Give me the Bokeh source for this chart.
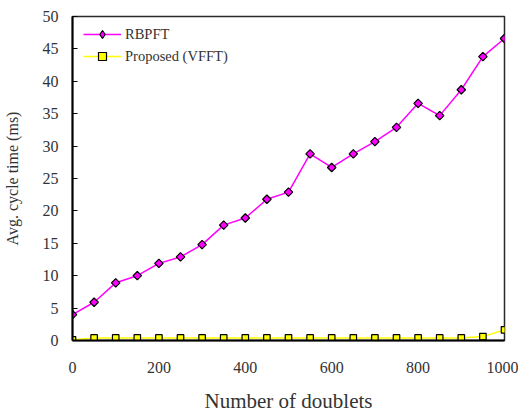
from bokeh.plotting import figure
from bokeh.models import Range1d, Legend, LegendItem, FixedTicker
from bokeh.embed import file_html
from bokeh.resources import INLINE
import math

doublets = [0, 50, 100, 150, 200, 250, 300, 350, 400, 450, 500, 550, 600, 650, 700, 750, 800, 850, 900, 950, 1000]
rbpft = [4.0, 5.9, 8.9, 10.0, 11.9, 12.9, 14.8, 17.8, 18.9, 21.8, 22.9, 28.8, 26.7, 28.8, 30.7, 32.9, 36.6, 34.7, 38.7, 43.8, 46.6]
vfft = [0.1, 0.4, 0.4, 0.4, 0.4, 0.4, 0.4, 0.4, 0.4, 0.4, 0.4, 0.4, 0.4, 0.4, 0.4, 0.4, 0.4, 0.4, 0.4, 0.6, 1.65]
x_ticks = [0, 200, 400, 600, 800, 1000]
y_ticks = [0, 5, 10, 15, 20, 25, 30, 35, 40, 45, 50]

FONT = "Liberation Serif"
TXT = "#333333"

p = figure(width=518, height=418, output_backend="svg", toolbar_location=None,
           x_range=Range1d(0, 1000), y_range=Range1d(0, 50),
           min_border_left=72, min_border_right=14, min_border_top=16, min_border_bottom=78)
p.grid.visible = False
p.outline_line_color = "#2a2a2a"
p.outline_line_width = 1.5
p.background_fill_color = "white"
p.border_fill_color = "white"

r1l = p.line(doublets, rbpft, line_color="#FF00FF", line_width=1.5)
# legend-only diamond (zero size on the plot, covered by the real markers)
r1d = p.scatter(doublets, rbpft, marker="diamond", size=0,
                fill_color="#FF00FF", line_color="black", line_width=1.2)
r1m = p.scatter(doublets, rbpft, marker="square", angle=math.pi / 4, size=6,
                fill_color="#FF00FF", line_color="black", line_width=1.2)
r2l = p.line(doublets, vfft, line_color="#FFFF00", line_width=1.5)
r2m = p.scatter(doublets, vfft, marker="square", size=6.5,
                fill_color="#FFFF00", line_color="black", line_width=1.2)

for ax in (p.xaxis[0], p.yaxis[0]):
    ax.axis_line_color = "black"
    ax.axis_line_width = 2
    ax.minor_tick_line_color = None
    ax.major_tick_out = 0
    ax.major_label_text_font = FONT
    ax.major_label_text_font_size = "16px"
    ax.major_label_text_color = TXT
    ax.axis_label_text_font = FONT
    ax.axis_label_text_font_style = "normal"
    ax.axis_label_text_color = TXT

p.xaxis.major_tick_line_color = None
p.yaxis.major_tick_line_color = "black"
p.yaxis.major_tick_in = 5
p.xaxis.ticker = FixedTicker(ticks=x_ticks)
p.yaxis.ticker = FixedTicker(ticks=y_ticks)
p.xaxis.major_label_standoff = 21
p.yaxis.major_label_standoff = 14
p.xaxis.axis_label = "Number of doublets"
p.xaxis.axis_label_text_font_size = "21px"
p.xaxis.axis_label_standoff = 13
p.yaxis.axis_label = "Avg. cycle time (ms)"
p.yaxis.axis_label_text_font_size = "16px"
p.yaxis.axis_label_standoff = 19

legend = Legend(items=[LegendItem(label="RBPFT", renderers=[r1l, r1d]),
                       LegendItem(label="Proposed (VFFT)", renderers=[r2l, r2m])],
                location=(11, 274), padding=0, margin=0, spacing=2,
                glyph_width=38, glyph_height=20, label_height=20, label_standoff=4,
                border_line_color=None, background_fill_alpha=0,
                label_text_font=FONT, label_text_font_size="14.5px", label_text_color=TXT)
p.add_layout(legend)

open("out.html", "w").write(file_html(p, INLINE))
